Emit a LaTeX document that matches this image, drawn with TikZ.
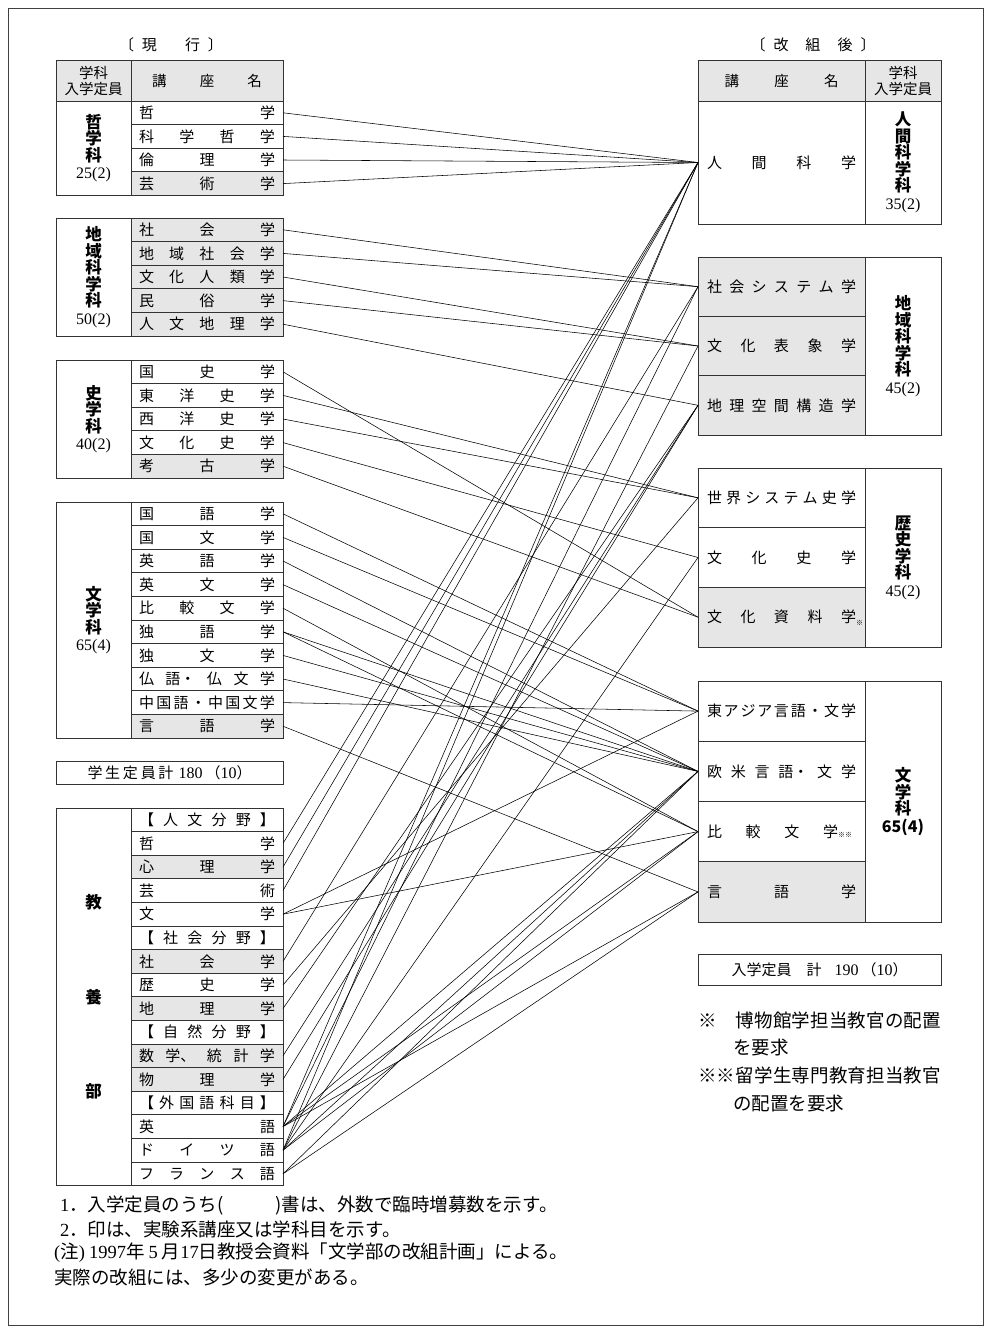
\documentclass[tikz,border=0pt]{standalone}
\usepackage{fontspec}
\setmainfont{Liberation Serif}
\newfontfamily\jp{Noto Sans CJK JP}
\definecolor{cg}{HTML}{E6E6E6}
\definecolor{bd}{HTML}{333333}
\def\sprloop#1{\ifx#1\relax\else\hfill#1\expandafter\sprloop\fi}
\def\sprfirst#1{#1\sprloop}
\newcommand\spr[1]{\sprfirst#1\relax}
\newcommand\nm[1]{{\rmfamily\mdseries\fontsize{16}{17}\selectfont #1}}
\newcommand\rmd[1]{{\rmfamily #1}}
\tikzset{
 cell/.style={draw=bd, line width=0.8pt, inner sep=0pt, outer sep=0pt},
 lrow/.style={cell, minimum width=152pt, minimum height=23.6pt, font=\jp\fontsize{15}{16}\selectfont},
 rrow/.style={cell, minimum width=167pt, font=\jp\fontsize{15}{16}\selectfont},
 dlab/.style={cell, fill=white, minimum width=75pt, align=center, font=\jp\bfseries\fontsize{16.5}{16.5}\selectfont},
 rlab/.style={cell, fill=white, minimum width=76pt, align=center, font=\jp\bfseries\fontsize{16.5}{16.5}\selectfont},
 hdr/.style={cell, fill=cg, minimum height=40.5pt, font=\jp\fontsize{14.5}{16}\selectfont, align=center},
 ttl/.style={inner sep=0pt, font=\jp\fontsize{15}{16}\selectfont},
 conn/.style={line width=0.55pt, black},
 note/.style={font=\jp\fontsize{18.5}{20}\selectfont, anchor=west, inner sep=0pt},
}
\newcommand\LR[4]{\node[lrow,fill=#3] (#1) at (207,#2) {\makebox[136pt][s]{\spr{#4}}};}
\newcommand\RR[4]{\node[rrow,#3] (#1) at (781.5,#2) {\makebox[149pt][s]{\spr{#4}}};}
\begin{document}
\begin{tikzpicture}[x=1pt,y=-1pt]
\useasboundingbox (0,0) rectangle (991,1333);
\draw[line width=0.6pt, black!75] (8,8) rectangle (983,1325);
% titles
\node[ttl] (tl) at (171,45) {〔\hspace{8pt}現\hspace{28pt}行\hspace{8pt}〕};
\node[ttl] (tr) at (813,45) {〔\hspace{8pt}改\hspace{17pt}組\hspace{17pt}後\hspace{8pt}〕};
% left header
\node[hdr, minimum width=75pt] (hl1) at (93.5,80.75) {学科\\入学定員};
\node[hdr, minimum width=152pt] (hl2) at (207,80.75) {\makebox[110pt][s]{\spr{講座名}}};
% right header
\node[hdr, minimum width=167pt] (hr1) at (781.5,80.75) {\makebox[114pt][s]{\spr{講座名}}};
\node[hdr, minimum width=76pt] (hr2) at (903,80.75) {学科\\入学定員};
% left: 哲学科
\node[dlab, minimum height=94.4pt] (K1) at (93.5,148.2) {哲\\学\\科\\[1pt]\nm{25(2)}};
\LR{a1}{112.8}{white}{哲学}
\LR{a2}{136.4}{white}{科学哲学}
\LR{a3}{160.0}{white}{倫理学}
\LR{a4}{183.6}{cg}{芸術学}
% 地域科学科
\node[dlab, minimum height=118pt] (K2) at (93.5,277) {地\\域\\科\\学\\科\\[1pt]\nm{50(2)}};
\LR{b1}{229.8}{cg}{社会学}
\LR{b2}{253.4}{cg}{地域社会学}
\LR{b3}{277.0}{cg}{文化人類学}
\LR{b4}{300.6}{cg}{民俗学}
\LR{b5}{324.2}{cg}{人文地理学}
% 史学科
\node[dlab, minimum height=118pt] (K3) at (93.5,419) {史\\学\\科\\[1pt]\nm{40(2)}};
\LR{c1}{371.8}{white}{国史学}
\LR{c2}{395.4}{white}{東洋史学}
\LR{c3}{419.0}{white}{西洋史学}
\LR{c4}{442.6}{white}{文化史学}
\LR{c5}{466.2}{cg}{考古学}
% 文学科
\node[dlab, minimum height=236pt] (K4) at (93.5,620) {文\\学\\科\\[1pt]\nm{65(4)}};
\LR{d1}{513.8}{white}{国語学}
\LR{d2}{537.4}{white}{国文学}
\LR{d3}{561.0}{white}{英語学}
\LR{d4}{584.6}{white}{英文学}
\LR{d5}{608.2}{white}{比較文学}
\LR{d6}{631.8}{white}{独語学}
\LR{d7}{655.4}{white}{独文学}
\LR{d8}{679.0}{white}{仏{語・}仏文学}
\LR{d9}{702.6}{white}{中国語・中国文学}
\LR{d10}{726.2}{cg}{言語学}
% total left
\node[cell, minimum width=227pt, minimum height=23pt, font=\jp\fontsize{15}{16}\selectfont] (tot1) at (169.5,772.5)
  {\makebox[86pt][s]{\spr{学生定員計}}\hspace{5pt}\rmd{\fontsize{16}{16}\selectfont 180}\hspace{3pt}（\rmd{\fontsize{16}{16}\selectfont 10}）};
% 教養部
\node[dlab, minimum height=377.6pt] (K5) at (93.5,996.8) {教\\[78pt]養\\[78pt]部};
\LR{e1}{819.8}{white}{【人文分野】}
\LR{e2}{843.4}{white}{哲学}
\LR{e3}{867.0}{cg}{心理学}
\LR{e4}{890.6}{white}{芸術}
\LR{e5}{914.2}{white}{文学}
\LR{e6}{937.8}{white}{【社会分野】}
\LR{e7}{961.4}{cg}{社会学}
\LR{e8}{985.0}{white}{歴史学}
\LR{e9}{1008.6}{cg}{地理学}
\LR{e10}{1032.2}{white}{【自然分野】}
\LR{e11}{1055.8}{cg}{数{学、}統計学}
\LR{e12}{1079.4}{cg}{物理学}
\LR{e13}{1103.0}{white}{【外国語科目】}
\LR{e14}{1126.6}{white}{英語}
\LR{e15}{1150.2}{white}{ドイツ語}
\LR{e16}{1173.8}{white}{フランス語}
% right: 人間科学科
\RR{r1}{162.5}{fill=white,minimum height=123pt}{人間科学}
\node[rlab, minimum height=123pt] (L1) at (903,162.5) {人\\間\\科\\学\\科\\[1pt]\nm{35(2)}};
% 地域科学科
\RR{s1}{286.7}{fill=cg,minimum height=59.33pt}{社会システム学}
\RR{s2}{346.0}{fill=cg,minimum height=59.33pt}{文化表象学}
\RR{s3}{405.3}{fill=cg,minimum height=59.33pt}{地理空間構造学}
\node[rlab, minimum height=178pt] (L2) at (903,346) {地\\域\\科\\学\\科\\[1pt]\nm{45(2)}};
% 歴史学科
\RR{t1}{497.8}{fill=white,minimum height=59.67pt}{世界システム史学}
\RR{t2}{557.5}{fill=white,minimum height=59.67pt}{文化史学}
\node[rrow, fill=cg, minimum height=59.67pt] (t3) at (781.5,617.2)
  {\makebox[149pt][s]{\spr{文化資料学}}\rlap{\raisebox{-3pt}{\fontsize{7}{7}\selectfont ※}}};
\node[rlab, minimum height=179pt] (L3) at (903,557.5) {歴\\史\\学\\科\\[1pt]\nm{45(2)}};
% 文学科
\RR{u1}{711.1}{fill=white,minimum height=60.25pt}{東アジア言語・文学}
\RR{u2}{771.4}{fill=white,minimum height=60.25pt}{欧米言{語・}文学}
\node[rrow, fill=white, minimum height=60.25pt] (u3) at (781.5,831.6)
  {\makebox[149pt][l]{\makebox[131pt][s]{\spr{比較文学}}{\fontsize{7}{7}\selectfont ※※}}};
\RR{u4}{891.9}{fill=cg,minimum height=60.25pt}{言語学}
\node[rlab, minimum height=241pt] (L4) at (903,801.5) {文\\学\\科\\[1pt]{\fontsize{16}{17}\selectfont 65(4)}};
% total right
\node[cell, minimum width=243pt, minimum height=31pt, font=\jp\fontsize{15}{16}\selectfont] (tot2) at (819.5,969.5)
  {入学定員\hspace{15pt}計\hspace{13pt}\rmd{\fontsize{16}{16}\selectfont 190}\hspace{3pt}（\rmd{\fontsize{16}{16}\selectfont 10}）};
% notes right
\node[note] (n1) at (698,1020) {\makebox[243pt][s]{\spr{※　博物館学担当教官の配置}}};
\node[note] (n2) at (733,1047) {\makebox[55pt][s]{\spr{を要求}}};
\node[note] (n3) at (698,1075) {\makebox[243pt][s]{\spr{※※留学生専門教育担当教官}}};
\node[note] (n4) at (733,1103) {\makebox[111pt][s]{\spr{の配置を要求}}};
% footnotes
\node[note] (f1) at (60,1205) {\rmd{1}．入学定員のうち(\hspace{52pt})書は、外数で臨時増募数を示す。};
\node[note] (f2) at (60,1229) {\rmd{2}．印は、実験系講座又は学科目を示す。};
\node[note] (f3) at (54,1253) {\rmd{(}注\rmd{)}\hspace{4pt}\rmd{1997}年\hspace{4pt}\rmd{5}\hspace{4pt}月\rmd{17}日教授会資料「文学部の改組計画」による。};
\node[note] (f4) at (54,1277) {実際の改組には、多少の変更がある。};
% connectors
\foreach \s/\t in {a1/r1,a2/r1,a3/r1,a4/r1,
  b1/s1,b2/s1,b3/s2,b4/s2,b5/s3,
  c1/t3,c2/t1,c3/t1,c4/t2,c5/t3,
  d1/u1,d2/u1,d3/u2,d4/u2,d5/u3,d6/u2,d6/u3,d7/u2,d8/u2,d9/u1,d10/u4,
  e2/r1,e3/r1,e4/r1,e5/u1,e5/u3,e7/s1,e8/t1,e9/s3,e11/s3,e12/s3,
  e14/r1,e14/s1,e14/u2,e14/u3,e14/u4,
  e15/r1,e15/s2,e15/t2,e15/u2,e15/u3,
  e16/u2,e16/u4}
  \draw[conn] (\s.east) -- (\t.west);
\end{tikzpicture}
\end{document}
